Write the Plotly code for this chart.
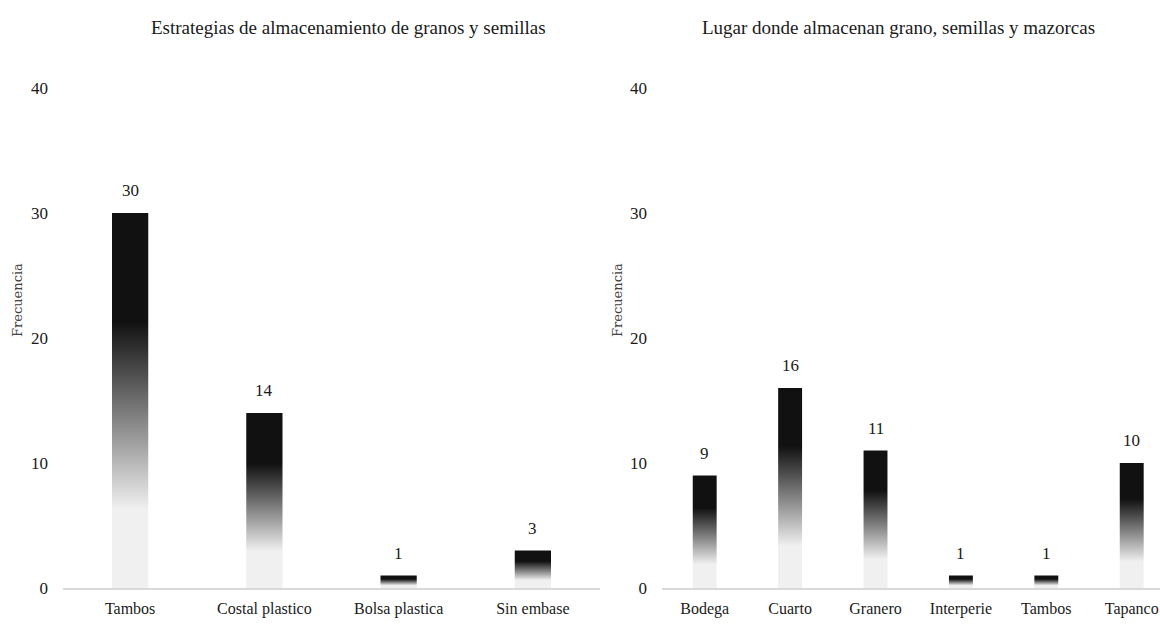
import plotly.graph_objects as go

# Storage strategies for grain and seed
estrategias = ["Tambos", "Costal plastico", "Bolsa plastica", "Sin embase"]
frec_estrategias = [30, 14, 1, 3]

# Places where grain, seed and cobs are kept
lugares = ["Bodega", "Cuarto", "Granero", "Interperie", "Tambos", "Tapanco"]
frec_lugares = [9, 16, 11, 1, 1, 10]

y_ticks = [0, 10, 20, 30, 40]

FONT = "Liberation Serif, Times New Roman, serif"
TXT = "#1a1a1a"
GRAD = [[0.0, "#f0f0f0"], [0.21, "#f0f0f0"], [0.40, "#9a9a9a"],
        [0.58, "#4a4a4a"], [0.71, "#111111"], [1.0, "#111111"]]

fig = go.Figure()


def add_bars(values, width, xref, yref):
    for i, v in enumerate(values):
        x0, x1 = i - width / 2, i + width / 2
        fig.add_trace(go.Scatter(
            x=[x0, x0, x1, x1, x0], y=[0, v, v, 0, 0],
            mode="lines", fill="toself", line=dict(width=0),
            fillgradient=dict(type="vertical", colorscale=GRAD),
            xaxis=xref, yaxis=yref, hoverinfo="skip", showlegend=False))
        fig.add_annotation(x=i, y=v, xref=xref, yref=yref, text=str(v),
                           showarrow=False, yanchor="bottom", yshift=11,
                           font=dict(family=FONT, size=17, color=TXT))


add_bars(frec_estrategias, 0.27, "x", "y")
add_bars(frec_lugares, 0.28, "x2", "y2")

ydom = [36 / 624, 536 / 624]
axis_font = dict(family=FONT, size=17, color=TXT)

xcommon = dict(showgrid=False, zeroline=False, showline=True,
               linecolor="#d9d9d9", linewidth=1.5, ticks="",
               tickfont=dict(family=FONT, size=16, color=TXT),
               ticklabelstandoff=5, fixedrange=True,
               automargin=False, ticklabeloverflow="allow")
ycommon = dict(range=[0, 40], tickvals=y_ticks, showgrid=False,
               zeroline=False, showline=False, ticks="",
               tickfont=axis_font, ticklabelstandoff=14, domain=ydom,
               automargin=False, fixedrange=True)

fig.update_layout(
    width=1160, height=624,
    margin=dict(l=0, r=0, t=0, b=0),
    font=dict(family=FONT, color=TXT),
    paper_bgcolor="white", plot_bgcolor="white",
    xaxis=dict(domain=[63 / 1160, 600 / 1160], range=[-0.5, 3.5],
               tickvals=list(range(len(estrategias))), ticktext=estrategias,
               anchor="y", **xcommon),
    yaxis=dict(anchor="x", **ycommon),
    xaxis2=dict(domain=[662 / 1160, 1.0], range=[-0.5, 5.331],
                tickvals=list(range(len(lugares))), ticktext=lugares,
                anchor="y2", **xcommon),
    yaxis2=dict(anchor="x2", **ycommon),
)

titles = [("Estrategias de almacenamiento de granos y semillas", 348),
          ("Lugar donde almacenan grano, semillas y mazorcas", 898)]
for text, xp in titles:
    fig.add_annotation(x=xp / 1160, y=(624 - 28) / 624, xref="paper",
                       yref="paper", text=text, showarrow=False,
                       xanchor="center", yanchor="middle",
                       font=dict(family=FONT, size=19, color=TXT))

for xp in (17, 617):
    fig.add_annotation(x=xp / 1160, y=(624 - 300) / 624, xref="paper",
                       yref="paper", text="Frecuencia", textangle=-90,
                       showarrow=False, xanchor="center", yanchor="middle",
                       font=dict(family="DejaVu Serif, serif", size=13,
                                 color="#404040"))

fig.write_html("out.html")
